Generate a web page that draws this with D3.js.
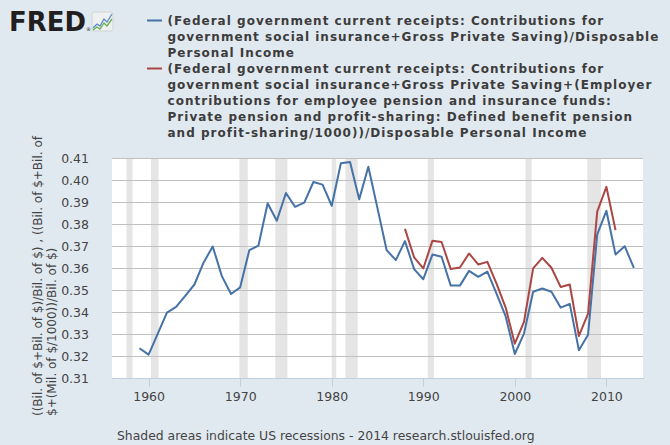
<!DOCTYPE html>
<html>
<head>
<meta charset="utf-8">
<script src="https://cdn.jsdelivr.net/npm/d3@7"></script>
<style>
  html, body { margin: 0; padding: 0; background: #e1e9f0; }
  svg { display: block; }
</style>
</head>
<body>
<svg id="chart" width="670" height="445"></svg>
<script>
// ---- data ----
const blueYears = d3.range(1959, 2014);
const blueValues = [
  0.3235, 0.3206, 0.3302, 0.3397, 0.3423, 0.3473, 0.3525, 0.3624, 0.3698, 0.3563,
  0.3482, 0.3512, 0.3681, 0.3702, 0.3894, 0.3815, 0.3941, 0.3878, 0.3897, 0.3991,
  0.3979, 0.3883, 0.4076, 0.4082, 0.3912, 0.4060, 0.3871, 0.3681, 0.3636, 0.3722,
  0.3595, 0.3549, 0.3661, 0.3651, 0.3520, 0.3520, 0.3587, 0.3560, 0.3584, 0.3484,
  0.3380, 0.3209, 0.3302, 0.3492, 0.3507, 0.3492, 0.3420, 0.3437, 0.3226, 0.3297,
  0.3753, 0.3860, 0.3661, 0.3699, 0.3601
];
const redYears = d3.range(1988, 2012);
const redValues = [
  0.3778, 0.3648, 0.3598, 0.3724, 0.3718, 0.3595, 0.3602, 0.3666, 0.3616, 0.3628,
  0.3529, 0.3420, 0.3256, 0.3355, 0.3598, 0.3646, 0.3601, 0.3514, 0.3525, 0.3291,
  0.3393, 0.3856, 0.3969, 0.3772
];
const recessionStarts = ["1957-08-01", "1960-04-01", "1969-12-01", "1973-11-01", "1980-01-01", "1981-07-01", "1990-07-01", "2001-03-01", "2007-12-01"];
const recessionEnds   = ["1958-04-01", "1961-02-01", "1970-11-01", "1975-03-01", "1980-07-01", "1982-11-01", "1991-03-01", "2001-11-01", "2009-06-01"];
const yTickValues = [0.31, 0.32, 0.33, 0.34, 0.35, 0.36, 0.37, 0.38, 0.39, 0.40, 0.41];
const xTickYears = [1960, 1970, 1980, 1990, 2000, 2010];
const legendBlueLines = [
  "(Federal government current receipts: Contributions for",
  "government social insurance+Gross Private Saving)/Disposable",
  "Personal Income"
];
const legendRedLines = [
  "(Federal government current receipts: Contributions for",
  "government social insurance+Gross Private Saving+(Employer",
  "contributions for employee pension and insurance funds:",
  "Private pension and profit-sharing: Defined benefit pension",
  "and profit-sharing/1000))/Disposable Personal Income"
];
const yTitleLines = [
  "((Bil. of $+Bil. of $)/Bil. of $) , ((Bil. of $+Bil. of",
  "$+(Mil. of $/1000))/Bil. of $)"
];
const footerText = "Shaded areas indicate US recessions - 2014 research.stlouisfed.org";

// ---- layout ----
const svg = d3.select("#chart");
const plot = { left: 112, right: 643, top: 158, bottom: 378 };
const parse = d3.timeParse("%Y-%m-%d");
const yr = y => new Date(y, 0, 1);

const x = d3.scaleTime().domain([yr(1956), yr(2014)]).range([plot.left, plot.right]);
const y = d3.scaleLinear().domain([0.31, 0.41]).range([plot.bottom, plot.top]);

// background
svg.append("rect").attr("width", 670).attr("height", 445).attr("fill", "#e1e9f0");
svg.append("rect").attr("x", plot.left).attr("y", plot.top)
  .attr("width", plot.right - plot.left).attr("height", plot.bottom - plot.top)
  .attr("fill", "#ffffff");

// recessions
svg.append("g").selectAll("rect").data(recessionStarts.map((s, i) => [parse(s), parse(recessionEnds[i])]))
  .join("rect")
  .attr("x", d => x(d[0])).attr("width", d => x(d[1]) - x(d[0]))
  .attr("y", plot.top).attr("height", plot.bottom - plot.top)
  .attr("fill", "#e5e5e5");

// grid lines via axis
const yAxis = d3.axisLeft(y).tickValues(yTickValues).tickFormat(d3.format(".2f"))
  .tickSize(-(plot.right - plot.left)).tickPadding(23);
const gy = svg.append("g").attr("transform", `translate(${plot.left},0)`).call(yAxis);
gy.select(".domain").remove();
gy.selectAll(".tick line").attr("stroke", "#c0c0c0").attr("stroke-width", 1).attr("shape-rendering", "crispEdges");
gy.selectAll(".tick text").attr("font-family", "DejaVu Sans").attr("font-size", 12.5).attr("fill", "#444");

// x axis
const xAxis = d3.axisBottom(x).tickValues(xTickYears.map(yr)).tickFormat(d3.timeFormat("%Y"))
  .tickSize(9).tickPadding(5).tickSizeOuter(0);
const gx = svg.append("g").attr("transform", `translate(0,${plot.bottom})`).call(xAxis);
gx.select(".domain").attr("stroke", "#c0d0e0").attr("shape-rendering", "crispEdges");
gx.selectAll(".tick line").attr("stroke", "#c0d0e0").attr("shape-rendering", "crispEdges");
gx.selectAll(".tick text").attr("font-family", "DejaVu Sans").attr("font-size", 12.5).attr("fill", "#444");

// lines
const line = d3.line().x(d => x(yr(d[0]))).y(d => y(d[1]));
svg.append("path").datum(blueYears.map((yy, i) => [yy, blueValues[i]]))
  .attr("d", line).attr("fill", "none").attr("stroke", "#4572a7").attr("stroke-width", 2)
  .attr("stroke-linejoin", "round");
svg.append("path").datum(redYears.map((yy, i) => [yy, redValues[i]]))
  .attr("d", line).attr("fill", "none").attr("stroke", "#aa4643").attr("stroke-width", 2)
  .attr("stroke-linejoin", "round");

// y axis title
const yt = svg.append("text").attr("font-family", "DejaVu Sans").attr("font-size", 12).attr("fill", "#444")
  .attr("transform", "translate(42,416) rotate(-90)");
yTitleLines.forEach((t, i) => yt.append("tspan").attr("x", 0).attr("y", i * 14).text(t));

// legend
const legend = svg.append("g").attr("font-family", "DejaVu Sans").attr("font-weight", "bold")
  .attr("font-size", 12).attr("letter-spacing", 1.02).attr("fill", "#3c3c3c");
function legendBlock(lines, color, top) {
  legend.append("line").attr("x1", 147).attr("x2", 162).attr("y1", top).attr("y2", top)
    .attr("stroke", color).attr("stroke-width", 2);
  lines.forEach((t, i) => legend.append("text").attr("x", 167.5).attr("y", top + 4.5 + i * 16).text(t));
}
legendBlock(legendBlueLines, "#4572a7", 20.5);
legendBlock(legendRedLines, "#aa4643", 68.5);

// footer
svg.append("text").attr("x", 117).attr("y", 440).attr("font-family", "DejaVu Sans")
  .attr("font-size", 12.4).attr("fill", "#444").text(footerText);

// FRED logo
const logo = svg.append("g");
logo.append("text").attr("x", 9).attr("y", 31).attr("font-family", "DejaVu Sans").attr("font-weight", "bold")
  .attr("font-size", 26).attr("textLength", 77).attr("lengthAdjust", "spacingAndGlyphs")
  .attr("fill", "#231f20").text("FRED");
logo.append("text").attr("x", 86).attr("y", 31).attr("font-family", "DejaVu Sans")
  .attr("font-size", 5).attr("fill", "#231f20").text("®");
logo.append("rect").attr("x", 92).attr("y", 12).attr("width", 21).attr("height", 19).attr("rx", 2)
  .attr("fill", "#eef0f2").attr("stroke", "#d0d4d8");
logo.append("polyline").attr("points", "93,28 97,24 100,26 104,19 107,22 112,14")
  .attr("fill", "none").attr("stroke", "#5a8ac6").attr("stroke-width", 1.3);
logo.append("polyline").attr("points", "93,30 97,27 100,29 104,23 107,26 112,19")
  .attr("fill", "none").attr("stroke", "#6ab04c").attr("stroke-width", 1.3);
</script>
</body>
</html>
